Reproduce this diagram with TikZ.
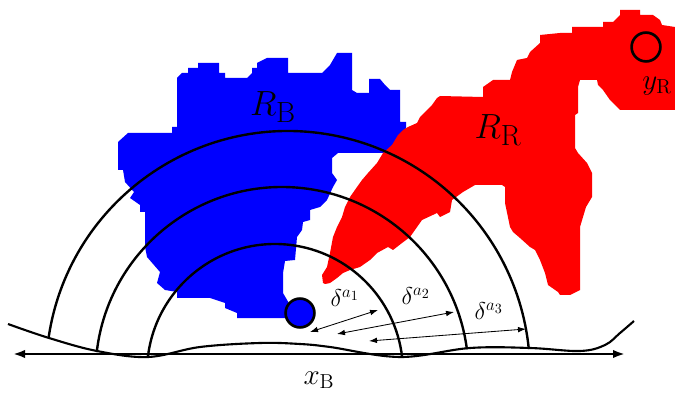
\documentclass[tikz,border=0pt]{standalone}
\usepackage{amsmath,amssymb}
\usepackage{xcolor}
\usepackage{tikz}
\usetikzlibrary{arrows.meta}

\begin{document}
\begin{tikzpicture}[
  x=0.025cm, y=0.025cm,
  font=\huge,
  axis/.style={{Latex[length=3mm,width=2.1mm]}-{Latex[length=3mm,width=2.1mm]}, line width=1.6pt},
  ring/.style={line width=1.7pt},
  wave/.style={line width=1.5pt},
  gap/.style={{Latex[length=2mm,width=1.4mm]}-{Latex[length=2mm,width=1.4mm]}, line width=0.6pt},
  dot/.style={circle, draw, line width=1.9pt, minimum size=20.5pt, inner sep=0pt},
  glbl/.style={font=\LARGE},
  rlbl/.style={font=\Huge},
]
\useasboundingbox (0,0) rectangle (675,394);
% Regions
\fill[blue] (177,316) -- (182,321) -- (188,321) -- (188,326) -- (198,326) -- (198,331)
  -- (219,331) -- (219,321) -- (225,321) -- (225,316) -- (247,316) -- (252,321)
  -- (252,326) -- (257,326) -- (257,331) -- (267,336) -- (288,336) -- (288,321)
  -- (322,321) -- (330,329) -- (337,341) -- (352,341) -- (352,304) -- (357,301)
  -- (369,301) -- (369,315) -- (380,315) -- (385,309) -- (390,304) -- (400,304)
  -- (400,272) -- (406,272) -- (406,266) -- (402,259) -- (397,254) -- (393,244)
  -- (392,241) -- (338,241) -- (332,236) -- (332,221) -- (337,214) -- (333,207)
  -- (327,194) -- (320,187) -- (310,184) -- (310,174) -- (303,172) -- (302,164)
  -- (297,157) -- (295,134) -- (285,133) -- (283,121) -- (283,101) -- (290,89)
  -- (295,76) -- (237,76) -- (237,81) -- (225,86) -- (225,91) -- (210,96)
  -- (177,96) -- (177,102) -- (165,104) -- (157,111) -- (160,122) -- (147,137)
  -- (145,147) -- (145,182) -- (140,182) -- (140,189) -- (130,196) -- (134,202)
  -- (125,212) -- (123,224) -- (118,224) -- (118,252) -- (128,261) -- (172,261)
  -- (172,267) -- (177,267) -- cycle;
\fill[red] (323,111) -- (322,119) -- (327,127) -- (330,141) -- (333,157) -- (337,167)
  -- (342,177) -- (345,187) -- (350,197) -- (357,207) -- (362,214) -- (368,221)
  -- (377,231) -- (383,241) -- (392,249) -- (398,259) -- (403,264) -- (408,267)
  -- (417,271) -- (420,277) -- (427,284) -- (432,289) -- (437,296) -- (440,298)
  -- (483,297) -- (483,307) -- (493,314) -- (510,314) -- (512,322) -- (517,334)
  -- (527,336) -- (530,342) -- (540,351) -- (540,359) -- (560,361) -- (572,361)
  -- (572,367) -- (603,367) -- (603,372) -- (613,372) -- (620,379) -- (620,384)
  -- (640,384) -- (640,379) -- (653,379) -- (660,374) -- (662,369) -- (675,367)
  -- (675,284) -- (620,284) -- (615,289) -- (610,294) -- (603,304) -- (598,309)
  -- (597,314) -- (580,314) -- (578,307) -- (578,281) -- (575,279) -- (575,246)
  -- (578,241) -- (587,231) -- (592,221) -- (592,197) -- (586,187) -- (580,167)
  -- (580,104) -- (570,99) -- (560,99) -- (558,102) -- (548,109) -- (545,121)
  -- (540,134) -- (535,144) -- (530,147) -- (520,156) -- (513,162) -- (510,167)
  -- (505,191) -- (505,207) -- (502,209) -- (475,209) -- (463,202) -- (452,194)
  -- (450,182) -- (440,177) -- (437,181) -- (422,174) -- (410,157) -- (402,151)
  -- (393,144) -- (388,147) -- (377,141) -- (370,134) -- (360,127) -- (350,124)
  -- (343,121) -- (337,116) -- (330,111) -- (325,110) -- cycle;
% Level sets around the blue point
\draw[ring] ([shift={(173.3:128)}]275,22) arc[start angle=173.3, end angle=6.7, radius=128];
\draw[ring] ([shift={(173.4:186.5)}]282,20.5) arc[start angle=173.4, end angle=7.5, radius=186.5];
\draw[ring] ([shift={(171.7:242)}]288,21) arc[start angle=171.7, end angle=5.7, radius=242];
% Ground line and axis
\draw[wave] plot[smooth, tension=0.6] coordinates {(8,70) (49,56) (97,43) (148,37)
  (200,47) (260,51) (300,50) (330,47) (400,37) (470,46) (530,46) (580,43)
  (605,49) (620,61) (634,73)};
\coordinate (axl) at (13,40);
\coordinate (axr) at (625,40);
\draw[axis] (axl) -- (axr);
% Points
\node[dot, fill=blue] (xb) at (300,81) {};
\node[dot] (yr) at (646,347) {};
% Distances
\coordinate (d1a) at (310,62);  \coordinate (d1b) at (378,84);
\coordinate (d2a) at (337,60);  \coordinate (d2b) at (454,82);
\coordinate (d3a) at (369,53);  \coordinate (d3b) at (526,65);
\draw[gap] (d1a) -- (d1b);
\draw[gap] (d2a) -- (d2b);
\draw[gap] (d3a) -- (d3b);
\node[glbl] (g1) at (345,96) {$\delta^{a_1}$};
\node[glbl] (g2) at (416,98) {$\delta^{a_2}$};
\node[glbl] (g3) at (489,83) {$\delta^{a_3}$};
% Labels
\node[rlbl] (rb) at (273,287) {$R_{\mathrm{B}}$};
\node[rlbl] (rr) at (498,264) {$R_{\mathrm{R}}$};
\node (ylbl) at (657,308) {$y_{\mathrm{R}}$};
\node (xlbl) at (319,14) {$x_{\mathrm{B}}$};
\end{tikzpicture}
\end{document}
